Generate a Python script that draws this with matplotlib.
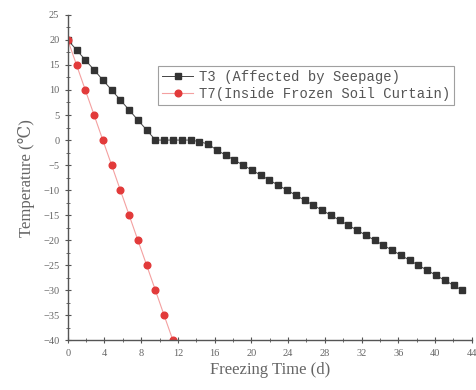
import numpy as np
import matplotlib
matplotlib.use("Agg")
import matplotlib.pyplot as plt
from matplotlib.ticker import MultipleLocator

# sampling times (d) and measured temperatures (°C)
t3_time = [0.0, 0.96, 1.91, 2.87, 3.82, 4.78, 5.73, 6.69, 7.64, 8.6,
           9.55, 10.5, 11.46, 12.42, 13.37, 14.33, 15.28, 16.24, 17.19, 18.15,
           19.1, 20.06, 21.01, 21.97, 22.92, 23.88, 24.83, 25.79, 26.74, 27.7,
           28.65, 29.61, 30.56, 31.52, 32.47, 33.43, 34.38, 35.34, 36.29, 37.25,
           38.2, 39.16, 40.11, 41.07, 42.02, 42.98]
t3_temp = [20, 18, 16, 14, 12, 10, 8, 6, 4, 2,
           0, 0, 0, 0, 0, -0.3, -0.8, -2, -3, -4,
           -5, -6, -7, -8, -9, -10, -11, -12, -13, -14,
           -15, -16, -17, -18, -19, -20, -21, -22, -23, -24,
           -25, -26, -27, -28, -29, -30]

t7_time = [0.0, 0.96, 1.91, 2.87, 3.82, 4.78, 5.73, 6.69, 7.64, 8.6,
           9.55, 10.5, 11.46]
t7_temp = [20, 15, 10, 5, 0, -5, -10, -15, -20, -25, -30, -35, -40]

label_font = ["Liberation Serif", "DejaVu Serif"]

fig = plt.figure(figsize=(4.77, 3.9), dpi=100)
ax = fig.add_axes([0.142, 0.127, 0.847, 0.835])

ax.plot(t3_time, t3_temp, color="#444444", lw=0.7, marker="s", ms=4.6,
        mfc="#333333", mec="#333333", label="T3 (Affected by Seepage)")
ax.plot(t7_time, t7_temp, color="#f4a0a0", lw=0.8, marker="o", ms=4.8,
        mfc="#e23a3a", mec="#e23a3a", label="T7(Inside Frozen Soil Curtain)")

ax.set_xlim(0, 44)
ax.set_ylim(-40, 25)
ax.xaxis.set_major_locator(MultipleLocator(4))
ax.xaxis.set_minor_locator(MultipleLocator(2))
ax.yaxis.set_major_locator(MultipleLocator(5))
ax.yaxis.set_minor_locator(MultipleLocator(2.5))

for side in ("top", "right"):
    ax.spines[side].set_visible(False)
for side in ("left", "bottom"):
    ax.spines[side].set_color("#555555")
    ax.spines[side].set_linewidth(1.0)

ax.tick_params(which="major", direction="inout", length=5, width=0.8,
               colors="#555555", labelsize=7.5, labelcolor="#666666")
ax.tick_params(which="minor", direction="inout", length=3, width=0.6,
               colors="#555555")
for lbl in ax.get_xticklabels() + ax.get_yticklabels():
    lbl.set_family(label_font)

ax.set_xlabel("Freezing Time (d)", family=label_font, fontsize=12,
              color="#666666", labelpad=3)
ax.set_ylabel("Temperature (℃)", family=label_font, fontsize=12,
              color="#666666", labelpad=6)

leg = ax.legend(loc="upper left", bbox_to_anchor=(0.207, 0.865),
                prop={"family": ["Liberation Mono", "DejaVu Sans Mono"], "size": 10},
                frameon=True, fancybox=False, handlelength=2.2,
                borderpad=0.3, labelspacing=0.2, handletextpad=0.4)
leg.get_frame().set_edgecolor("#888888")
leg.get_frame().set_linewidth(0.8)
for txt in leg.get_texts():
    txt.set_color("#555555")

fig.savefig("out.png", dpi=100)
